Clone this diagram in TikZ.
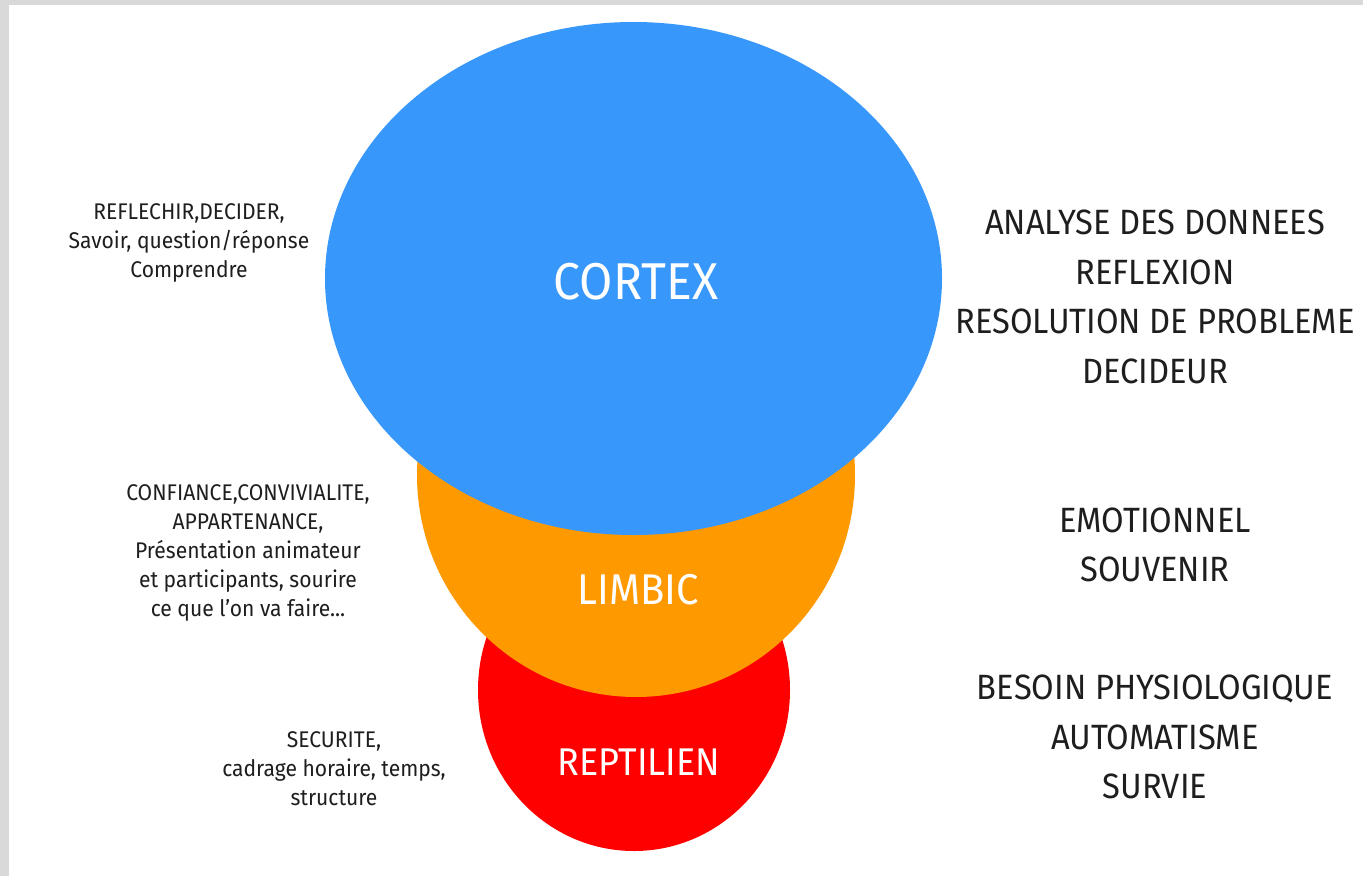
\documentclass[tikz,border=0pt]{standalone}
\usepackage{fontspec}
\setmainfont{Fira Sans}[FakeStretch=0.93]
\definecolor{cortexblue}{RGB}{55,151,251}
\definecolor{limbicorange}{RGB}{255,153,0}
\definecolor{reptred}{RGB}{255,0,0}
\definecolor{bordergray}{RGB}{217,217,217}
\definecolor{textdark}{RGB}{30,30,30}

\begin{document}
\begin{tikzpicture}[x=0.02cm,y=-0.02cm]
            \tikzstyle{brainlabel}=[text=white,inner sep=0pt]
            \tikzstyle{sidenote}=[text=textdark,align=center,inner sep=0pt,font=\fontsize{12.9}{16.6}\selectfont]
            \tikzstyle{rolenote}=[text=textdark,align=center,inner sep=0pt,font=\fontsize{20}{28.3}\selectfont]
            \useasboundingbox (0,0) rectangle (1363,876);
            \fill[bordergray] (0,0) rectangle (1363,876);
            \fill[white] (9,5) rectangle (1363,876);
            \fill[reptred] (634,690) ellipse [x radius=156, y radius=161];
            \fill[limbicorange] (636,475) ellipse [x radius=219, y radius=222];
            \fill[cortexblue] (633.5,278.5) ellipse [x radius=308.5, y radius=256.5];
            \node[brainlabel,font=\fontsize{29.5}{30}\selectfont] (cortex) at (636,282) {CORTEX};
            \node[brainlabel,font=\fontsize{24.5}{25}\selectfont] (limbic) at (638,590) {LIMBIC};
            \node[brainlabel,font=\fontsize{22}{23}\selectfont] (reptilien) at (639,762) {REPTILIEN};
            \node[sidenote] (reflechir) at (189,243) {REFLECHIR,DECIDER,\\Savoir, question/réponse\\Comprendre};
            \node[sidenote] (confiance) at (248,553) {CONFIANCE,CONVIVIALITE,\\APPARTENANCE,\\Présentation animateur\\et participants, sourire\\ce que l'on va faire...};
            \node[sidenote] (securite) at (334,769) {SECURITE,\\cadrage horaire, temps,\\structure};
            \node[rolenote] (analyse) at (1155,297) {ANALYSE DES DONNEES\\REFLEXION\\RESOLUTION DE PROBLEME\\DECIDEUR};
            \node[rolenote] (emotion) at (1155,545) {EMOTIONNEL\\SOUVENIR};
            \node[rolenote] (besoin) at (1155,737) {BESOIN PHYSIOLOGIQUE\\AUTOMATISME\\SURVIE};
        \end{tikzpicture}
\end{document}
